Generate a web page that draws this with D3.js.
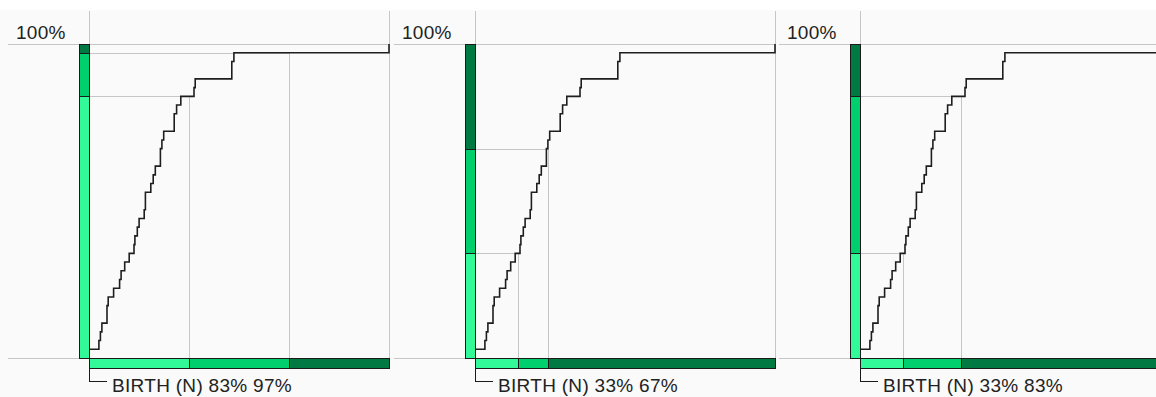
<!DOCTYPE html>
<html>
<head>
<meta charset="utf-8">
<script src="https://cdn.jsdelivr.net/npm/d3@7"></script>
<style>
  html, body { margin: 0; padding: 0; background: #ffffff; }
  svg { display: block; }
  text { font-family: "Liberation Sans", Arial, sans-serif; }
</style>
</head>
<body>
<svg id="chart" width="1156" height="397"></svg>
<script>
// ---- data ----
const totalCount = 36;
// cumulative curve (same in every panel): x position in % of range, cumulative count
const stepX     = [0, 3.3, 3.8, 4.3, 6.0, 6.4, 8.2, 10.2, 10.7, 11.9, 13.4, 15.0, 15.3, 16.1, 16.7, 18.4, 18.8, 20.6, 21.4, 22.1, 23.8, 24.3, 24.9, 28.4, 29.2, 30.6, 35.0, 35.4, 47.6, 48.3, 100];
const stepCount = [1, 2, 3, 4, 6, 7, 8, 9, 10, 11, 12, 13, 14, 15, 16, 17, 19, 20, 21, 22, 24, 25, 26, 28, 29, 30, 31, 32, 34, 35, 36];

const panelLabels = ["BIRTH (N) 83% 97%", "BIRTH (N) 33% 67%", "BIRTH (N) 33% 83%"];
const topLabel = "100%";
// cut points on the cumulative (y) axis, in %
const yCuts = [[83.3, 97.2], [33.3, 66.7], [33.3, 83.3]];
// matching cut points on the x axis, in %
const xCuts = [[33.3, 66.7], [14.2, 24.2], [14.2, 33.6]];
const segColors = ["#33fa98", "#00cf6e", "#007a42"];

// ---- layout ----
const svg = d3.select("#chart");
svg.append("rect").attr("x", 0).attr("y", 10).attr("width", 1156).attr("height", 387).attr("fill", "#fafafa");

const panelOrigins = [89, 475, 860];
const plotW = 300, yTop = 44, yBase = 358;
const gridColor = "#c6c6c6";

panelOrigins.forEach((ox, i) => {
  const g = svg.append("g");
  const x = d3.scaleLinear().domain([0, 100]).range([ox, ox + plotW]);
  const y = d3.scaleLinear().domain([0, 100]).range([yBase, yTop]);
  const yc = d3.scaleLinear().domain([0, totalCount]).range([yBase, yTop]);

  // frame grid lines
  const gl = g.append("g").attr("stroke", gridColor).attr("stroke-width", 1).attr("shape-rendering", "crispEdges");
  [100, 0].forEach(v => {
    gl.append("line").attr("x1", ox - 81).attr("x2", x(100) + 1)
      .attr("y1", y(v) + 0.5).attr("y2", y(v) + 0.5);
  });
  [0, 100].forEach(v => {
    gl.append("line").attr("x1", x(v) + 0.5).attr("x2", x(v) + 0.5)
      .attr("y1", 11).attr("y2", yBase);
  });
  // threshold guide lines
  yCuts[i].forEach((yv, k) => {
    const xv = xCuts[i][k];
    gl.append("path")
      .attr("fill", "none")
      .attr("d", `M${x(0)},${Math.round(y(yv)) + 0.5}H${Math.round(x(xv)) + 0.5}V${yBase}`);
  });

  // cumulative step curve
  const pts = stepX.map((v, k) => [x(v), yc(stepCount[k])]);
  g.append("path")
    .datum(pts)
    .attr("fill", "none")
    .attr("stroke", "#1e1e1e")
    .attr("stroke-width", 1.6)
    .attr("d", d3.line().curve(d3.curveStepAfter)(pts));

  // vertical segmented bar
  const yb = [0, ...yCuts[i], 100];
  for (let k = 0; k < 3; k++) {
    const y0 = Math.round(y(yb[k])), y1 = Math.round(y(yb[k + 1]));
    g.append("rect")
      .attr("x", ox - 10 + 0.5).attr("width", 10)
      .attr("y", y1 + 0.5).attr("height", y0 - y1)
      .attr("fill", segColors[k]).attr("stroke", "#1a1a1a").attr("stroke-width", 1)
      .attr("shape-rendering", "crispEdges");
  }
  // horizontal segmented bar
  const xb = [0, ...xCuts[i], 100];
  for (let k = 0; k < 3; k++) {
    const x0 = Math.round(x(xb[k])), x1 = Math.round(x(xb[k + 1]));
    g.append("rect")
      .attr("x", x0 + 0.5).attr("width", x1 - x0)
      .attr("y", yBase + 0.5).attr("height", 10)
      .attr("fill", segColors[k]).attr("stroke", "#1a1a1a").attr("stroke-width", 1)
      .attr("shape-rendering", "crispEdges");
  }

  // label bracket
  g.append("path")
    .attr("fill", "none").attr("stroke", "#1a1a1a").attr("stroke-width", 1)
    .attr("shape-rendering", "crispEdges")
    .attr("d", `M${ox + 0.5},${yBase + 10}V${yBase + 23.5}H${ox + 18}`);

  // texts
  g.append("text").attr("x", ox - 73).attr("y", 39)
    .attr("font-size", 19).attr("letter-spacing", 0.3).attr("fill", "#222").text(topLabel);
  g.append("text").attr("x", ox + 23).attr("y", 392)
    .attr("font-size", 19).attr("letter-spacing", 0.3).attr("fill", "#222").text(panelLabels[i]);
});
</script>
</body>
</html>
